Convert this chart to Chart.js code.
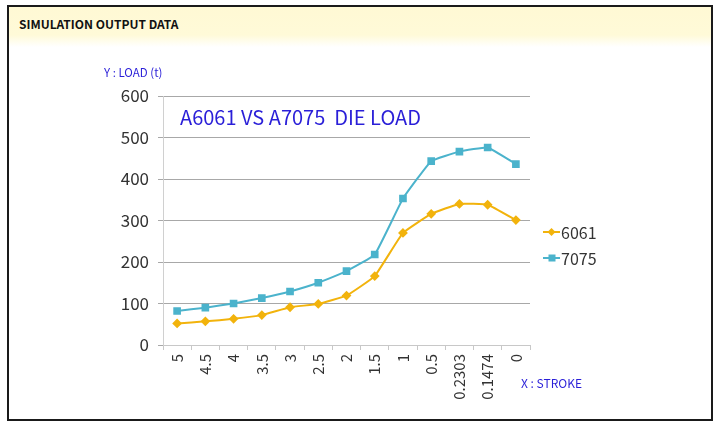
<!DOCTYPE html>
<html>
<head>
<meta charset="utf-8">
<script src="https://cdn.jsdelivr.net/npm/chart.js@4/dist/chart.umd.min.js"></script>
<style>
  html,body{margin:0;padding:0;background:#fff;}
  body{width:722px;height:427px;position:relative;overflow:hidden;font-family:"Noto Sans CJK KR","Open Sans",sans-serif;}
  #frame{position:absolute;left:7px;top:5px;width:702px;height:412px;border:2px solid #1a1a1a;box-sizing:content-box;}
  #header{position:absolute;left:0;top:0;width:100%;height:40px;background:linear-gradient(to bottom,#fff9d4 0%,#fffad8 70%,#ffffff 100%);}
  #htitle{position:absolute;left:10px;top:8px;font-size:12px;font-weight:bold;color:#111;}
  #c{position:absolute;left:0;top:0;}
  .lbl{position:absolute;color:#2a1fd8;white-space:nowrap;}
</style>
</head>
<body>
<div id="frame"><div id="header"><div id="htitle">SIMULATION OUTPUT DATA</div></div></div>
<canvas id="c" width="722" height="427"></canvas>
<div class="lbl" style="left:104px;top:64px;font-size:11.5px;">Y : LOAD (t)</div>
<div class="lbl" style="left:180px;top:102px;font-size:20px;">A6061 VS A7075 &nbsp;DIE LOAD</div>
<div class="lbl" style="left:521px;top:374px;font-size:12px;">X : STROKE</div>
<script>
const categories = ["5","4.5","4","3.5","3","2.5","2","1.5","1","0.5","0.2303","0.1474","0"];
const series6061 = [52,57,63,72,91,99,119,166,270,316,340,338,301];
const series7075 = [82,90,100,113,129,150,178,218,353,443,466,476,436];
const yTicks = [0,100,200,300,400,500,600];

const legendPlugin = {
  id:'customLegend',
  afterDraw(chart){
    const ctx = chart.ctx;
    const items = [{ds:chart.data.datasets[0], y:232},{ds:chart.data.datasets[1], y:258}];
    items.forEach(it=>{
      ctx.save();
      ctx.strokeStyle = it.ds.borderColor;
      ctx.lineWidth = 2;
      ctx.beginPath(); ctx.moveTo(543,it.y); ctx.lineTo(560,it.y); ctx.stroke();
      ctx.fillStyle = it.ds.pointBackgroundColor;
      if(it.ds.pointStyle==='rect'){ ctx.fillRect(548.5,it.y-3.5,7,7); }
      else { ctx.beginPath(); ctx.moveTo(551.5,it.y-4); ctx.lineTo(555.5,it.y); ctx.lineTo(551.5,it.y+4); ctx.lineTo(547.5,it.y); ctx.closePath(); ctx.fill(); }
      ctx.fillStyle = '#333';
      ctx.font = '16px "Noto Sans CJK KR","Open Sans",sans-serif';
      ctx.textBaseline = 'middle';
      ctx.fillText(it.ds.label, 561, it.y+1);
      ctx.restore();
    });
  }
};

new Chart(document.getElementById('c'),{
  type:'line',
  data:{
    labels:categories,
    datasets:[
      {label:'6061',data:series6061,borderColor:'#f2b30c',backgroundColor:'#f2b30c',pointBackgroundColor:'#f2b30c',pointBorderColor:'#f2b30c',borderWidth:2,pointStyle:'rectRot',pointRadius:3.5,tension:0.1},
      {label:'7075',data:series7075,borderColor:'#4bb3cc',backgroundColor:'#4bb3cc',pointBackgroundColor:'#4bb3cc',pointBorderColor:'#4bb3cc',borderWidth:2,pointStyle:'rect',pointRadius:4,tension:0.1}
    ]
  },
  options:{
    responsive:false,
    animation:false,
    devicePixelRatio:1,
    layout:{padding:{left:0,top:96,right:192,bottom:0}},
    plugins:{legend:{display:false},tooltip:{enabled:false}},
    scales:{
      x:{
        offset:true,
        grid:{display:true,drawOnChartArea:false,drawTicks:true,tickLength:5,color:'#c8c8c8',offset:true},
        border:{display:true,color:'#c8c8c8'},
        ticks:{minRotation:90,maxRotation:90,padding:4,color:'#333',font:{size:15,family:'"Noto Sans CJK KR","Open Sans",sans-serif'},autoSkip:false},
        afterFit(s){ s.height = 82; }
      },
      y:{
        min:0,max:600,
        afterBuildTicks(s){ s.ticks = yTicks.map(v=>({value:v})); },
        grid:{color:'#a8a8a8',tickLength:5,drawTicks:true},
        border:{display:true,color:'#d0d0d0'},
        ticks:{padding:9,color:'#333',font:{size:17,family:'"Noto Sans CJK KR","Open Sans",sans-serif'}},
        afterFit(s){ s.width = 163; }
      }
    }
  },
  plugins:[legendPlugin]
});
</script>
</body>
</html>
